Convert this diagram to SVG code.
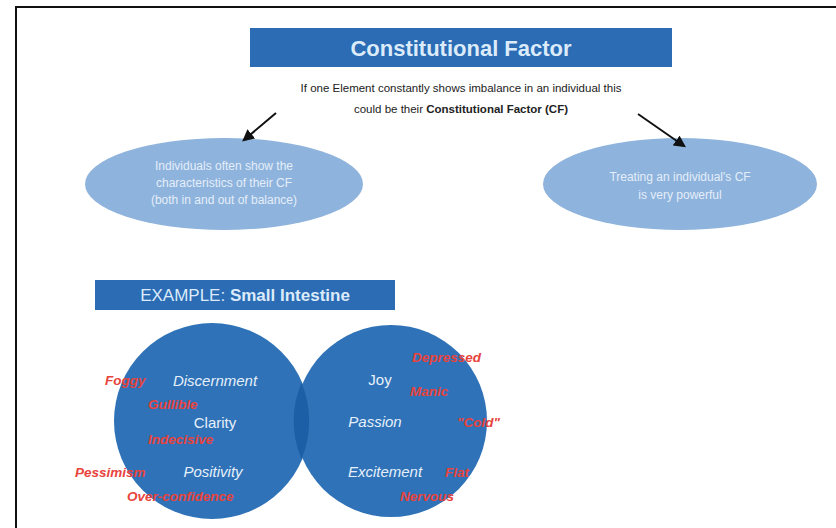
<svg xmlns="http://www.w3.org/2000/svg" width="836" height="528" viewBox="0 0 836 528">
<defs>
<style>
.t{font-family:"Liberation Sans",Arial,sans-serif}
.w{fill:#dcebfa}
.red{fill:#e8433c;font-style:italic;font-weight:bold;font-size:13.5px;font-family:"Liberation Sans",Arial,sans-serif}
.ctext{fill:#e6f0fb;font-size:15px;font-family:"Liberation Sans",Arial,sans-serif}
.etext{fill:#e4eefa;font-size:12px;font-family:"Liberation Sans",Arial,sans-serif}
.conn{stroke:#111;stroke-width:2;fill:none}
</style>
<marker id="ah" viewBox="0 0 10 10" refX="8" refY="5" markerWidth="6" markerHeight="6" orient="auto">
<path d="M0,0 L10,5 L0,10 z" fill="#111"/>
</marker>
</defs>
<rect x="0" y="0" width="836" height="528" fill="#fff"/>
<rect x="16" y="7" width="840" height="540" fill="none" stroke="#111" stroke-width="2"/>
<g id="title">
<rect x="250" y="28" width="422" height="39" fill="#2b6cb4"/>
<text x="461" y="56" text-anchor="middle" class="t w" font-size="22" font-weight="bold">Constitutional Factor</text>
</g>
<g id="subtitle">
<text x="461" y="92" text-anchor="middle" class="t" font-size="11.5" fill="#222">If one Element constantly shows imbalance in an individual this</text>
<text x="461" y="113" text-anchor="middle" class="t" font-size="11.5" fill="#222">could be their <tspan font-weight="bold">Constitutional Factor (CF)</tspan></text>
</g>
<g id="node-left">
<ellipse cx="224" cy="184" rx="139" ry="46" fill="#8eb3dc"/>
<text x="224" y="170" text-anchor="middle" class="etext">Individuals often show the</text>
<text x="224" y="187" text-anchor="middle" class="etext">characteristics of their CF</text>
<text x="224" y="204" text-anchor="middle" class="etext">(both in and out of balance)</text>
</g>
<g id="node-right">
<ellipse cx="680" cy="184" rx="137" ry="46" fill="#8eb3dc"/>
<text x="680" y="181" text-anchor="middle" class="etext">Treating an individual's CF</text>
<text x="680" y="199" text-anchor="middle" class="etext">is very powerful</text>
</g>
<g id="connectors">
<line class="conn" x1="276" y1="113" x2="244" y2="140" marker-end="url(#ah)"/>
<line class="conn" x1="638" y1="114" x2="684" y2="146" marker-end="url(#ah)"/>
</g>
<g id="example">
<rect x="95" y="280" width="300" height="30" fill="#2b6cb4"/>
<text x="245" y="301" text-anchor="middle" class="t w" font-size="17">EXAMPLE: <tspan font-weight="bold">Small Intestine</tspan></text>
</g>
<g id="venn">
<circle cx="212" cy="421" r="98" fill="#2f72b7"/>
<circle cx="391" cy="421" r="96" fill="#2f72b7"/>
<path d="M301.5,383 A98,98 0 0 1 301.5,459 A96,96 0 0 1 301.5,383 Z" fill="#1d5fa6"/>
</g>
<g id="left-circle-text">
<text x="215" y="386" text-anchor="middle" class="ctext" font-style="italic">Discernment</text>
<text x="215" y="428" text-anchor="middle" class="ctext">Clarity</text>
<text x="213" y="477" text-anchor="middle" class="ctext" font-style="italic">Positivity</text>
<text x="105" y="385" class="red">Foggy</text>
<text x="148" y="409" class="red">Gullible</text>
<text x="148" y="444" class="red">Indecisive</text>
<text x="75" y="477" class="red">Pessimism</text>
<text x="127" y="501" class="red">Over-confidence</text>
</g>
<g id="right-circle-text">
<text x="380" y="385" text-anchor="middle" class="ctext">Joy</text>
<text x="375" y="427" text-anchor="middle" class="ctext" font-style="italic">Passion</text>
<text x="385" y="477" text-anchor="middle" class="ctext" font-style="italic">Excitement</text>
<text x="412" y="362" class="red">Depressed</text>
<text x="410" y="396" class="red">Manic</text>
<text x="457" y="427" class="red">"Cold"</text>
<text x="445" y="477" class="red">Flat</text>
<text x="400" y="501" class="red">Nervous</text>
</g>
</svg>
